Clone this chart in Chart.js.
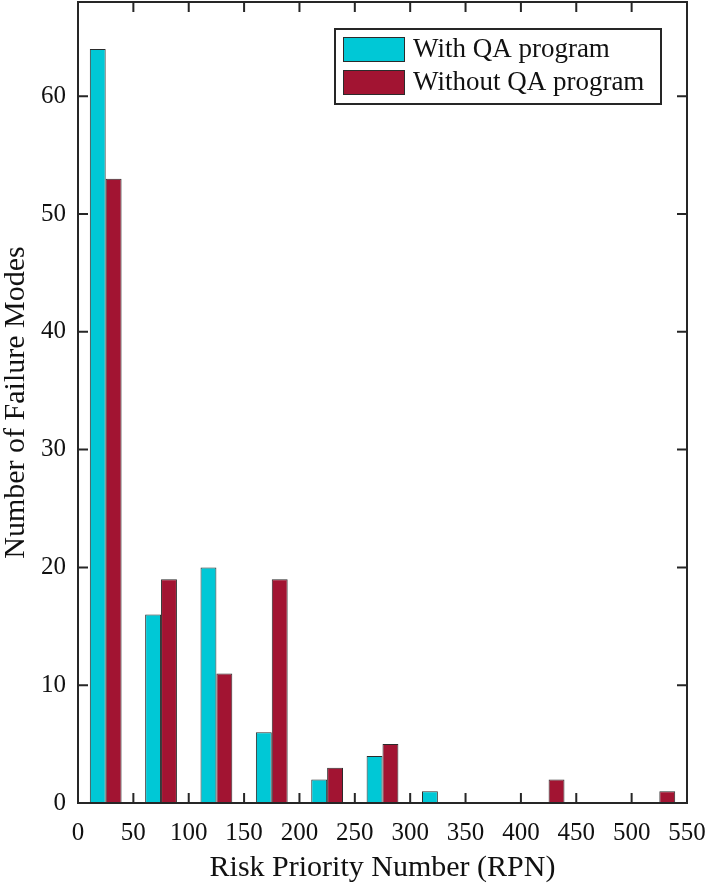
<!DOCTYPE html>
<html>
	<head>
		<meta charset="UTF-8" />
		<title>RPN</title>
		<script src="https://cdn.jsdelivr.net/npm/chart.js@4/dist/chart.umd.min.js"></script>
		<style>
			html, body { margin: 0; padding: 0; background: #fff; }
			#wrap { width: 709px; height: 884px; }
		</style>
	</head>
	<body>
		<div id="wrap"><canvas id="rpnChart" width="709" height="884"></canvas></div>

		<script>
			// данные
			var rpnCenters = [25, 75, 125, 175, 225, 275, 325, 375, 425, 475, 525];
			var withQA    = [64, 16, 20, 6, 2, 4, 1, 0, 0, 0, 0];
			var withoutQA = [53, 19, 11, 19, 3, 5, 0, 0, 2, 0, 1];
			var seriesNames = ['With QA program', 'Without QA program'];
			var xTicks = [0, 50, 100, 150, 200, 250, 300, 350, 400, 450, 500, 550];
			var yTicks = [0, 10, 20, 30, 40, 50, 60];

			var serif = '"Liberation Serif", "Times New Roman", serif';
			var cyan = 'rgb(0, 200, 214)';
			var crimson = 'rgb(162, 20, 50)';
			var edge = '#2b2b2b';

			function points(vals) {
				return rpnCenters.map(function (c, i) {
					return { x: c, y: vals[i] === 0 ? null : vals[i] };
				});
			}

			// рамка, внутренние засечки и легенда в стиле MATLAB
			var frame = {
				id: 'frame',
				afterDatasetsDraw: function (chart) {
					var ctx = chart.ctx, a = chart.chartArea;
					var xs = chart.scales.x, ys = chart.scales.y;
					var tl = 10;
					ctx.save();
					ctx.strokeStyle = '#262626';
					ctx.lineWidth = 2;
					ctx.strokeRect(a.left, a.top, a.right - a.left, a.bottom - a.top);
					ctx.beginPath();
					xTicks.forEach(function (v) {
						var px = xs.getPixelForValue(v);
						ctx.moveTo(px, a.bottom); ctx.lineTo(px, a.bottom - tl);
						ctx.moveTo(px, a.top); ctx.lineTo(px, a.top + tl);
					});
					yTicks.forEach(function (v) {
						var py = ys.getPixelForValue(v);
						ctx.moveTo(a.left, py); ctx.lineTo(a.left + tl, py);
						ctx.moveTo(a.right, py); ctx.lineTo(a.right - tl, py);
					});
					ctx.stroke();

					// легенда
					var bx = a.right - 352, by = a.top + 27, bw = 326, bh = 75;
					ctx.fillStyle = '#fff';
					ctx.fillRect(bx, by, bw, bh);
					ctx.lineWidth = 2;
					ctx.strokeRect(bx, by, bw, bh);
					var cols = [cyan, crimson];
					ctx.font = '27px ' + serif;
					ctx.textBaseline = 'middle';
					seriesNames.forEach(function (name, i) {
						var sy = by + 8 + i * 33;
						ctx.fillStyle = cols[i];
						ctx.fillRect(bx + 8, sy, 62, 25);
						ctx.lineWidth = 1;
						ctx.strokeStyle = edge;
						ctx.strokeRect(bx + 8.5, sy + 0.5, 61, 24);
						ctx.fillStyle = '#111';
						ctx.fillText(name, bx + 78, sy + 13);
					});
					ctx.restore();
				}
			};

			var rpnChart = new Chart(document.getElementById('rpnChart'), {
				type: 'bar',
				data: {
					datasets: [{
						label: seriesNames[0],
						data: points(withQA),
						backgroundColor: cyan,
						borderColor: edge,
						borderWidth: 1
					}, {
						label: seriesNames[1],
						data: points(withoutQA),
						backgroundColor: crimson,
						borderColor: edge,
						borderWidth: 1
					}]
				},
				options: {
					responsive: false,
					animation: false,
					categoryPercentage: 0.574,
					barPercentage: 1.0,
					layout: { padding: { top: 2, right: 22, left: 0, bottom: 0 } },
					plugins: {
						legend: { display: false },
						tooltip: { enabled: false }
					},
					scales: {
						x: {
							type: 'linear',
							min: 0,
							max: 550,
							offset: false,
							grid: { display: false, drawTicks: false, offset: false },
							border: { display: false },
							afterBuildTicks: function (s) {
								s.ticks = xTicks.map(function (v) { return { value: v }; });
							},
							afterFit: function (s) {
								s.height = 81;
								s.paddingLeft = 0; s.paddingRight = 0;
							},
							ticks: {
								color: '#111',
								padding: 15,
								maxRotation: 0,
								autoSkip: false,
								font: { family: serif, size: 25 }
							},
							title: {
								display: true,
								text: 'Risk Priority Number (RPN)',
								color: '#111',
								padding: 0,
								font: { family: serif, size: 30, lineHeight: 1.05 }
							}
						},
						y: {
							min: 0,
							max: 68,
							grid: { display: false, drawTicks: false },
							border: { display: false },
							afterBuildTicks: function (s) {
								s.ticks = yTicks.map(function (v) { return { value: v }; });
							},
							afterFit: function (s) {
								s.width = 78;
								s.paddingTop = 0; s.paddingBottom = 0;
							},
							ticks: {
								color: '#111',
								padding: 12,
								font: { family: serif, size: 25 }
							},
							title: {
								display: true,
								text: 'Number of Failure Modes',
								color: '#111',
								padding: 0,
								font: { family: serif, size: 30, lineHeight: 1.1 }
							}
						}
					}
				},
				plugins: [frame]
			});
		</script>
	</body>
</html>
